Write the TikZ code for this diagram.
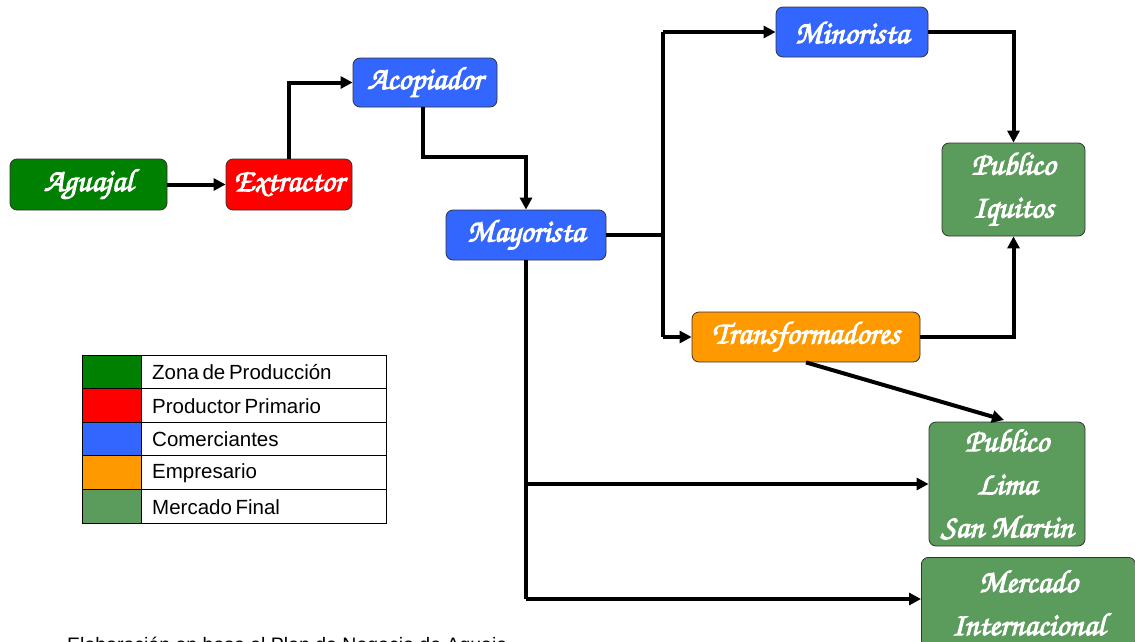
\documentclass[tikz,border=0pt]{standalone}
\usepackage[T1,TU]{fontenc}
\usepackage{fontspec}
\setmainfont{Liberation Sans}
\usetikzlibrary{arrows.meta}
% calligraphic face for the box labels (URW Chancery), stroked to look heavier
\newcommand\chanc{\fontencoding{T1}\fontfamily{pzc}\fontseries{mb}\fontshape{it}\selectfont}
\newcommand\heavy[1]{\special{pdf:literal direct 2 Tr 1.0 w}#1\special{pdf:literal direct 0 Tr}}
\newcommand\tightsp{\spaceskip=0.18em\relax}
\definecolor{zona}{RGB}{0,128,0}
\definecolor{prod}{RGB}{255,0,0}
\definecolor{come}{RGB}{51,102,255}
\definecolor{empr}{RGB}{255,153,0}
\definecolor{merc}{RGB}{91,155,91}
\begin{document}
\begin{tikzpicture}[x=1pt,y=-1pt,
  box/.style={draw=black!80, line width=0.8pt, rounded corners=7pt, inner sep=0pt,
    text=white, font=\chanc\fontsize{32}{43}\selectfont, align=center},
  flow/.style={line width=4pt, -{Triangle[length=12pt,width=12pt]}},
  link/.style={line width=4pt},
  legtxt/.style={anchor=west, font=\fontsize{20.5}{22}\selectfont, inner sep=0pt}]
\useasboundingbox (0,0) rectangle (1135,641);

% actors
\node[box, fill=zona, minimum width=157pt, minimum height=51pt] (agu) at (88.5,184.5) {\heavy{Aguajal}};
\node[box, fill=prod, minimum width=126pt, minimum height=51pt] (ext) at (289,184.5) {\heavy{Extractor}};
\node[box, fill=come, minimum width=144pt, minimum height=49pt] (aco) at (425,82.5) {\heavy{Acopiador}};
\node[box, fill=come, minimum width=160pt, minimum height=50pt] (may) at (526,235) {\heavy{Mayorista}};
\node[box, fill=come, minimum width=152pt, minimum height=50pt] (min) at (852,32) {\heavy{Minorista}};
\node[box, fill=empr, minimum width=228pt, minimum height=50pt] (tra) at (806,337) {\heavy{Transformadores}};
\node[box, fill=merc, minimum width=143pt, minimum height=93pt] (iqu) at (1013.5,189.5) {\heavy{Publico}\\\heavy{Iquitos}};
\node[box, fill=merc, minimum width=156pt, minimum height=124pt] (lim) at (1007,484) {\heavy{Publico}\\\heavy{Lima}\\\heavy{San Martin}};
\node[box, fill=merc, minimum width=214pt, minimum height=90pt, anchor=north west] (int) at (921,557) {\heavy{Mercado}\\\heavy{Internacional}};

% junction points
\coordinate (jm) at (663,235);
\coordinate (jt) at (663,32);
\coordinate (jb) at (663,337);
\coordinate (jl) at (526,484);
\coordinate (ji) at (526,599);

% connectors
\draw[flow] (agu.east) -- (ext.west);
\draw[flow] (ext.north) |- (aco.west);
\draw[flow] (aco.south -| 423,0) -- (423,157) -| (may.north);
\draw[link] (may.east) -- (jm);
\draw[link] (jt) -- (jb);
\draw[flow] (jt) -- (min.west);
\draw[flow] (jb) -- (tra.west);
\draw[flow] (min.east) -| (iqu.north);
\draw[flow] (tra.east) -| (iqu.south);
\draw[flow] (tra.south) -- (1004,420);
\draw[link] (may.south) -- (ji);
\draw[flow] (jl) -- (lim.west);
\draw[flow] (ji) -- (ji -| int.west);

% legend
\foreach \c/\t [count=\i from 0] in {zona/Zona de Producción, prod/Productor Primario,
    come/Comerciantes, empr/Empresario, merc/Mercado Final}{
  \fill[\c] (82,355+33.6*\i) rectangle (141,355+33.6*\i+33.6);
  \draw[line width=1pt] (82,355+33.6*\i) rectangle (386,355+33.6*\i+33.6);
  \draw[line width=1pt] (141,355+33.6*\i) -- (141,355+33.6*\i+33.6);
  \node[legtxt] (leg\i) at (152,355+33.6*\i+17.3) {\tightsp\t};
}

% source note
\node[anchor=base west, font=\fontsize{19.5}{22}\selectfont, inner sep=0pt] (src) at (67,651) {Elaboración en base al Plan de Negocio de Aguaje};
\end{tikzpicture}
\end{document}
